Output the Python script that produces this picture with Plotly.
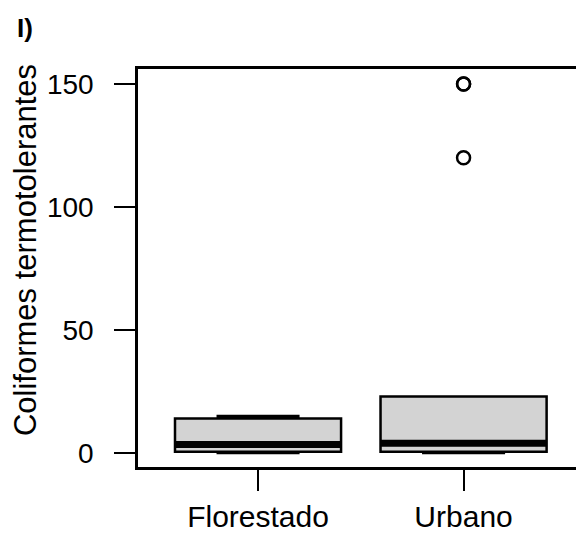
import plotly.graph_objects as go

# Summary statistics per land-use group
groups = ["Florestado", "Urbano"]
lower_whisker = [0, 0]
q1 = [0.5, 0.5]
median = [3.5, 4]
q3 = [14, 23]
upper_whisker = [15, 23]

# Points beyond the whiskers
outlier_group = ["Urbano", "Urbano", "Urbano"]
outlier_value = [120, 150, 150]

y_ticks = [0, 50, 100, 150]

FONT = "Liberation Sans, Arial, sans-serif"

fig = go.Figure()

# Main boxes
fig.add_trace(go.Box(
    x=groups, q1=q1, median=median, q3=q3,
    lowerfence=lower_whisker, upperfence=upper_whisker,
    width=0.808, whiskerwidth=0.5,
    fillcolor="#d3d3d3",
    line=dict(color="black", width=2.5),
    boxpoints=False, showlegend=False, hoverinfo="skip",
))

# Heavy median bars, drawn as flat boxes at the median
fig.add_trace(go.Box(
    x=groups, q1=median, median=median, q3=median,
    lowerfence=median, upperfence=median,
    width=0.808, whiskerwidth=0,
    fillcolor="black",
    line=dict(color="black", width=7),
    boxpoints=False, showlegend=False, hoverinfo="skip",
))

# Outliers
fig.add_trace(go.Scatter(
    x=outlier_group, y=outlier_value, mode="markers",
    marker=dict(symbol="circle-open", size=13, color="black",
                line=dict(width=2.5, color="black")),
    showlegend=False, hoverinfo="skip",
))

fig.update_layout(
    width=576, height=534,
    margin=dict(l=138, r=0, t=69, b=67),
    paper_bgcolor="white", plot_bgcolor="white",
    boxmode="overlay",
    font=dict(family=FONT, color="black"),
    xaxis=dict(
        type="category", categoryorder="array", categoryarray=groups,
        range=[-0.584, 1.547], automargin=False,
        showline=True, linecolor="black", linewidth=2.5, mirror=True,
        ticks="outside", ticklen=21, tickwidth=2, tickcolor="black",
        tickfont=dict(size=30, family=FONT), ticklabelstandoff=0,
        showgrid=False, zeroline=False,
    ),
    yaxis=dict(
        range=[-5.69, 156.1], automargin=False,
        tickvals=y_ticks, ticktext=[str(v) for v in y_ticks],
        showline=True, linecolor="black", linewidth=2.5, mirror=False,
        ticks="outside", ticklen=21, tickwidth=2, tickcolor="black",
        tickfont=dict(size=28, family=FONT), ticklabelstandoff=15,
        showgrid=False, zeroline=False,
    ),
    annotations=[
        dict(text="Coliformes termotolerantes", textangle=-90,
             xref="paper", yref="paper", x=-0.258, y=0.545,
             xanchor="center", yanchor="middle", showarrow=False,
             font=dict(size=31, family=FONT)),
        dict(text="<b>I)</b>", xref="paper", yref="paper",
             x=-0.281, y=1.103, xanchor="left", yanchor="middle",
             showarrow=False, font=dict(size=26, family=FONT)),
    ],
)

fig.write_html("out.html")
